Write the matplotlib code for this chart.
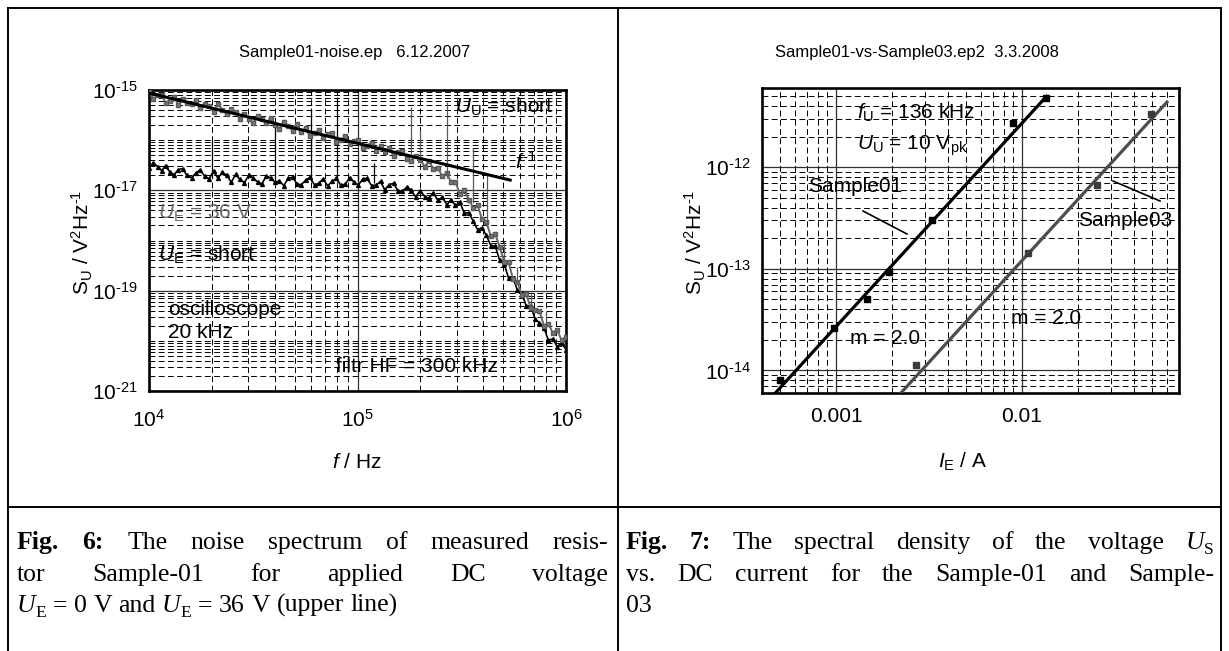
import numpy as np
import matplotlib
matplotlib.use("Agg")
import matplotlib.pyplot as plt
from matplotlib.ticker import FixedLocator, NullFormatter, FixedFormatter
from matplotlib.lines import Line2D

W, H = 1229, 651
plt.rcParams['font.family'] = ['Liberation Sans', 'DejaVu Sans']
plt.rcParams['mathtext.fontset'] = 'custom'
plt.rcParams['mathtext.rm'] = 'Liberation Sans'
plt.rcParams['mathtext.it'] = 'Liberation Sans:italic'
plt.rcParams['mathtext.bf'] = 'Liberation Sans:bold'
plt.rcParams['mathtext.default'] = 'regular'

# ---------------- data: Fig. 6 (noise spectrum) ----------------
freq_khz = [10, 10.5, 11, 11.5, 12, 12.6, 13.2, 13.8, 14.5, 15.2, 16, 16.8, 17.6, 18.5, 19.4,
            20.4, 21.4, 22.5, 23.6, 24.8, 26, 27.3, 28.7, 30.1, 31.6, 33.2, 34.8, 36.5, 38.3,
            40.2, 42.2, 44.3, 46.5, 48.8, 51.2, 53.7, 56.4, 59.2, 62.2, 65.3, 68.5, 71.9, 75.5,
            79.3, 83.2, 87.4, 91.8, 96.3, 101, 106, 111, 117, 123, 129, 135, 142, 149, 157, 164,
            173, 181, 190, 200, 210, 220, 231, 243, 255, 268, 281, 295, 310, 325, 342, 359, 377,
            395, 415, 436, 458, 481, 505, 530, 557, 585, 614, 645, 677, 711, 746, 784, 823, 864,
            907, 952, 1000]
# U_E = 36 V (upper, grey), in 1e-16 V^2/Hz
s_36V_e16 = [9.4, 6.7, 7.9, 8.0, 5.6, 6.1, 7.3, 5.0, 6.7, 5.6,
             5.2, 6.3, 4.4, 5.3, 4.8, 3.7, 5.3, 4.0, 3.3, 4.2,
             3.7, 2.7, 3.4, 2.7, 2.2, 3.1, 2.65, 2.16, 2.8, 2.04,
             1.7, 2.3, 1.94, 1.53, 2.1, 1.46, 1.72, 1.2, 1.4, 1.56,
             1.12, 1.33, 1.38, 0.94, 1.0, 1.22, 0.83, 0.95, 1.01, 0.69,
             0.78, 0.89, 0.6, 0.75, 0.59, 0.7, 0.48, 0.59, 0.6, 0.43,
             0.39, 0.48, 0.41, 0.295, 0.384, 0.27, 0.28, 0.19, 0.224, 0.144,
             0.146, 0.084, 0.102, 0.065, 0.045, 0.05, 0.027, 0.023, 0.0123, 0.0132,
             0.0075, 0.0038, 0.00375, 0.0017, 0.0015, 0.00081, 0.00084, 0.00046, 0.00042, 0.00039,
             0.0002, 0.00022, 0.000144, 0.000168, 0.000102, 0.000121]
# U_E = short (lower, black), in 1e-17 V^2/Hz
s_short_e17 = [2.8, 3.57, 2.96, 2.46, 3.12, 2.3, 2.06, 2.58, 2.71, 1.98,
               1.8, 2.2, 2.56, 1.9, 1.7, 2.42, 1.76, 2.28, 2.0, 1.44,
               2.07, 1.66, 1.43, 2.0, 1.79, 1.45, 1.35, 1.92, 1.79, 1.44,
               1.55, 1.24, 1.73, 1.83, 1.35, 1.28, 1.6, 1.81, 1.28, 1.38,
               1.71, 1.22, 1.52, 1.74, 1.25, 1.33, 1.8, 1.45, 1.28, 1.68,
               1.74, 1.23, 1.28, 1.5, 1.03, 1.3, 1.38, 0.95, 0.95, 1.18,
               1.0, 0.74, 0.99, 0.75, 0.69, 0.9, 0.63, 0.73, 0.52, 0.65,
               0.5, 0.58, 0.35, 0.36, 0.24, 0.164, 0.18, 0.126, 0.079, 0.077,
               0.04, 0.034, 0.018, 0.018, 0.0101, 0.0088, 0.0049, 0.005, 0.0027, 0.0023,
               0.00184, 0.00102, 0.0011, 0.00077, 0.0009, 0.00067]
# oscilloscope interference spikes
spk_short_khz = [20, 40, 60, 80, 100, 120]
spk_short_lo = [1.8e-17, 1.6e-17, 1.5e-17, 1.5e-17, 1.5e-17, 1.4e-17]
spk_short_hi = [1.0e-16, 2.2e-16, 4.0e-16, 7.3e-16, 4.0e-17, 3.5e-17]
spk_36V_khz = [180, 200, 270, 360, 420, 505, 580, 680, 800]
spk_36V_lo = [4.5e-17, 4.0e-17, 1.8e-17, 5.5e-18, 1.9e-18, 4.0e-19, 1.4e-19, 4.5e-20, 2.0e-20]
spk_36V_hi = [4.6e-16, 1.6e-16, 5.8e-16, 6.9e-17, 2.1e-17, 1.0e-18, 3.0e-19, 9.4e-20, 3.8e-20]
# f^-1 guide line
fline_hz = [1e4, 5.4e5]
fline_s = [8.7e-16, 1.6e-17]

# ---------------- data: Fig. 7 (S_U vs I_E) ----------------
i_s01 = [5.0e-4, 9.7e-4, 1.46e-3, 1.92e-3, 3.3e-3, 9.0e-3, 1.355e-2]
s_s01 = [8.1e-15, 2.63e-14, 5.0e-14, 9.3e-14, 3.0e-13, 2.74e-12, 4.78e-12]
i_s03 = [2.7e-3, 1.08e-2, 2.54e-2, 4.97e-2]
s_s03 = [1.12e-14, 1.43e-13, 6.7e-13, 3.35e-12]
fit01_i = [4.6e-4, 1.355e-2]
fit01_s = [5.7e-15, 4.96e-12]
fit03_i = [2.1e-3, 6.03e-2]
fit03_s = [5.3e-15, 4.36e-12]

# ---------------- helpers ----------------
def fx(x):
    return x / W

def fy(y):
    return 1 - y / H

fig = plt.figure(figsize=(W / 100, H / 100), dpi=100)
fig.patch.set_facecolor('white')


def axes_px(x0, y0, x1, y1):
    return fig.add_axes([fx(x0), fy(y1), (x1 - x0) / W, (y1 - y0) / H])


def style_axes(ax, major_x, minor_x, major_y, minor_y, xlabels, ylabels):
    ax.set_xscale('log')
    ax.set_yscale('log')
    ax.xaxis.set_major_locator(FixedLocator(major_x))
    ax.xaxis.set_minor_locator(FixedLocator(minor_x))
    ax.yaxis.set_major_locator(FixedLocator(major_y))
    ax.yaxis.set_minor_locator(FixedLocator(minor_y))
    ax.xaxis.set_major_formatter(FixedFormatter(xlabels))
    ax.yaxis.set_major_formatter(FixedFormatter(ylabels))
    ax.xaxis.set_minor_formatter(NullFormatter())
    ax.yaxis.set_minor_formatter(NullFormatter())
    ax.grid(which='major', color='#303030', lw=0.9, ls='-')
    ax.grid(which='minor', color='black', lw=0.7, ls=(0, (6, 3.5)))
    ax.set_axisbelow(True)
    for s in ax.spines.values():
        s.set_linewidth(1.9)
    ax.tick_params(which='both', direction='in', top=True, right=True, length=0)
    ax.tick_params(axis='both', labelsize=15)


def minor_positions(e0, e1, lo, hi):
    out = []
    for e in range(e0, e1 + 1):
        for k in range(1, 10):
            v = k * 10.0 ** e
            if lo * 0.999 <= v <= hi * 1.001:
                out.append(v)
    return out

# ---------------- left panel ----------------
ax1 = axes_px(149, 90, 566, 391)
f_hz = np.array(freq_khz) * 1e3
ax1.plot(f_hz, np.array(s_short_e17) * 1e-17, color='black', lw=1.2, marker='^', ms=2.8,
         mec='black', mfc='black', zorder=3)
ax1.vlines(np.array(spk_short_khz) * 1e3, spk_short_lo, spk_short_hi, color='black', lw=0.9, zorder=3)
ax1.plot(f_hz, np.array(s_36V_e16) * 1e-16, color='#666666', lw=1.4, marker='s', ms=3.2,
         mec='#5a5a5a', mfc='#777777', zorder=4)
ax1.vlines(np.array(spk_36V_khz) * 1e3, spk_36V_lo, spk_36V_hi, color='#5a5a5a', lw=0.9, zorder=4)
ax1.plot(fline_hz, fline_s, color='black', lw=2.2, zorder=5)
ax1.set_xlim(1e4, 1e6)
ax1.set_ylim(1e-21, 1e-15)
style_axes(ax1, [1e4, 1e5, 1e6], minor_positions(4, 5, 1e4, 1e6),
           [1e-21, 1e-19, 1e-17, 1e-15], minor_positions(-21, -16, 1e-21, 1e-15),
           [r'$10^{4}$', r'$10^{5}$', r'$10^{6}$'],
           [r'$10^{\text{-21}}$', r'$10^{\text{-19}}$', r'$10^{\text{-17}}$', r'$10^{\text{-15}}$'])
ax1.tick_params(axis='x', pad=13)
ax1.tick_params(axis='y', pad=8)

# ---------------- right panel ----------------
ax2 = axes_px(762, 88, 1179, 393)
ax2.plot(fit01_i, fit01_s, color='black', lw=2.3, zorder=3)
ax2.plot(i_s01, s_s01, ls='none', marker='s', ms=4.5, color='black', zorder=4)
ax2.plot(fit03_i, fit03_s, color='#4d4d4d', lw=2.3, zorder=3)
ax2.plot(i_s03, s_s03, ls='none', marker='s', ms=4.5, color='#3c3c3c', zorder=4)
ax2.set_xlim(4e-4, 0.07)
ax2.set_ylim(6e-15, 6e-12)
style_axes(ax2, [1e-3, 1e-2], minor_positions(-4, -2, 4e-4, 0.07),
           [1e-14, 1e-13, 1e-12], minor_positions(-15, -12, 6e-15, 6e-12),
           ['0.001', '0.01'],
           [r'$10^{\text{-14}}$', r'$10^{\text{-13}}$', r'$10^{\text{-12}}$'])
ax2.tick_params(axis='x', pad=10)
ax2.tick_params(axis='y', pad=8)

# ---------------- texts in panels ----------------
def ptext(x, y, s, size=15, color='black', ha='left', va='center', **kw):
    fig.text(fx(x), fy(y), s, fontsize=size, color=color, ha=ha, va=va, **kw)

ptext(355, 53, 'Sample01-noise.ep   6.12.2007', size=12, ha='center')
ptext(917, 53, 'Sample01-vs-Sample03.ep2  3.3.2008', size=12, ha='center')
ylab = r'S$_{\rm U}$ / V$^{2}$Hz$^{\text{-1}}$'
ptext(82, 242, ylab, ha='center', rotation=90)
ptext(695, 242, ylab, ha='center', rotation=90)
ptext(357, 462, r'$\it{f}$ / Hz', ha='center')
ptext(963, 462, r'$\it{I}_{\rm E}$ / A', ha='center')

ptext(455, 107, r'$\it{U}_{\rm U}$ = short')
ptext(515, 162, r'$\it{f}^{\text{-1}}$')
ptext(158, 213, r'$\it{U}_{\rm E}$ = 36 V', color='#6a6a6a')
ptext(158, 255, r'$\it{U}_{\rm E}$ = short')
ptext(168, 309, 'oscilloscope')
ptext(168, 333, '20 kHz')
ptext(336, 367, 'filtr HF = 300 kHz')

ptext(857, 113, r'$\it{f}_{\rm U}$ = 136 kHz')
ptext(857, 146, r'$\it{U}_{\rm U}$ = 10 V$_{\rm pk}$')
ptext(808, 187, 'Sample01')
ptext(1078, 220, 'Sample03')
ptext(850, 339, 'm = 2.0')
ptext(1011, 318, 'm = 2.0')
for (x0, y0, x1, y1) in [(863, 211, 907, 234), (1113, 181, 1160, 201)]:
    fig.add_artist(Line2D([fx(x0), fx(x1)], [fy(y0), fy(y1)], transform=fig.transFigure,
                          color='black', lw=1.2))

# ---------------- table frame ----------------
frame = [(8, 8, 1221, 8), (8, 8, 8, 651), (1221, 8, 1221, 651), (618, 8, 618, 651),
         (8, 507, 1221, 507)]
for (x0, y0, x1, y1) in frame:
    fig.add_artist(Line2D([fx(x0), fx(x1)], [fy(y0), fy(y1)], transform=fig.transFigure,
                          color='black', lw=1.4, solid_capstyle='projecting'))

# ---------------- captions ----------------
renderer = fig.canvas.get_renderer()
CAP = 18.5
SERIF = 'Liberation Serif'


def make_run(txt, style):
    kw = dict(fontsize=CAP, family=SERIF, va='baseline', ha='left')
    if style == 'b':
        kw['fontweight'] = 'bold'
    if style == 'i':
        kw['fontstyle'] = 'italic'
    if style == 'sub':
        kw['fontsize'] = CAP * 0.68
    t = fig.text(0, 0, txt, **kw)
    w = t.get_window_extent(renderer).width
    return t, w, style


def space_width():
    t1 = fig.text(0, 0, 'n n', fontsize=CAP, family=SERIF)
    t2 = fig.text(0, 0, 'nn', fontsize=CAP, family=SERIF)
    w = t1.get_window_extent(renderer).width - t2.get_window_extent(renderer).width
    t1.remove(); t2.remove()
    return w

SP = space_width()


def caption_line(x0, x1, ybase, words, justify=True):
    built = []
    for word in words:
        runs = [make_run(t, s) for t, s in word]
        built.append((runs, sum(r[1] for r in runs)))
    total = sum(b[1] for b in built)
    if justify and len(built) > 1:
        gap = (x1 - x0 - total) / (len(built) - 1)
    else:
        gap = SP
    x = x0
    for runs, w in built:
        xx = x
        for t, rw, st in runs:
            dy = 5 if st == 'sub' else 0
            t.set_position((fx(xx), fy(ybase + dy)))
            xx += rw
        x += w + gap


def plain(s):
    return [(s, 'r')]

L1 = [[('Fig.', 'b')], [('6:', 'b')]] + [plain(w) for w in 'The noise spectrum of measured resis-'.split()]
L2 = [plain(w) for w in 'tor Sample-01 for applied DC voltage'.split()]
L3 = [[('U', 'i'), ('E', 'sub')], plain('='), plain('0'), plain('V'), plain('and'),
      [('U', 'i'), ('E', 'sub')], plain('='), plain('36'), plain('V'), plain('(upper'), plain('line)')]
R1 = [[('Fig.', 'b')], [('7:', 'b')]] + [plain(w) for w in 'The spectral density of the voltage'.split()] + \
     [[('U', 'i'), ('S', 'sub')]]
R2 = [plain(w) for w in 'vs. DC current for the Sample-01 and Sample-'.split()]
R3 = [plain('03')]

caption_line(17, 608, 549, L1)
caption_line(17, 608, 581, L2)
caption_line(17, 608, 612, L3, justify=False)
caption_line(626, 1214, 549, R1)
caption_line(626, 1214, 581, R2)
caption_line(626, 1214, 612, R3, justify=False)

fig.savefig('out.png', dpi=100, facecolor='white')
